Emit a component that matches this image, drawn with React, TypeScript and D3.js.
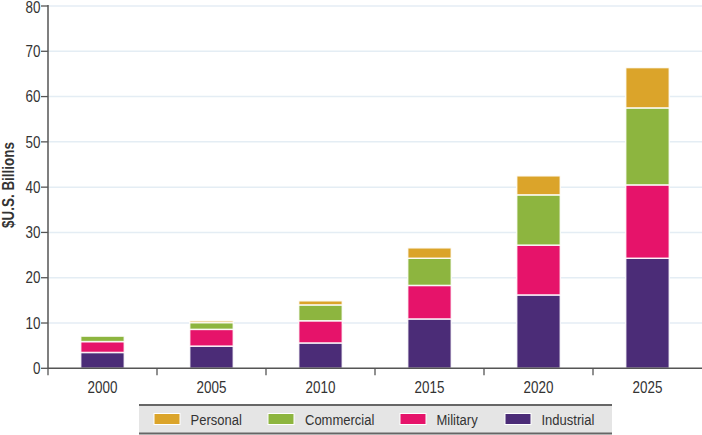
import React from "react";
import * as d3 from "d3";

const years = ["2000", "2005", "2010", "2015", "2020", "2025"];
const industrial = [3.5, 4.9, 5.6, 10.9, 16.2, 24.3];
const military = [2.4, 3.7, 4.9, 7.4, 11.0, 16.2];
const commercial = [1.2, 1.5, 3.5, 6.0, 11.1, 17.0];
const personal = [0, 0.4, 0.9, 2.3, 4.2, 8.9];
const seriesNames = ["Industrial", "Military", "Commercial", "Personal"];
const legendOrder = ["Personal", "Commercial", "Military", "Industrial"];
const yTicks = [0, 10, 20, 30, 40, 50, 60, 70, 80];

const colors: Record<string, string> = {
  Personal: "#DBA42A",
  Commercial: "#8DB53F",
  Military: "#E6136A",
  Industrial: "#4B2C77",
};

const W = 702;
const H = 435;
const FONT = "'Liberation Sans', Arial, sans-serif";
const SX = 0.84;

function CText(props: {
  x: number;
  y: number;
  anchor?: "start" | "middle" | "end";
  size: number;
  dy?: string;
  bold?: boolean;
  rotate?: number;
  children: React.ReactNode;
}) {
  const { x, y, anchor = "start", size, dy, bold, rotate = 0, children } = props;
  return (
    <g transform={`translate(${x},${y}) rotate(${rotate}) scale(${SX},1)`}>
      <text x={0} y={0} dy={dy} textAnchor={anchor} fontSize={size} fontWeight={bold ? "bold" : "normal"} fill="#333">
        {children}
      </text>
    </g>
  );
}

export default function App() {
  const left = 48;
  const right = 702;
  const y0 = 368.3;
  const yTop = 6;

  const x = d3.scaleBand<string>().domain(years).range([left, right]).paddingInner(0.6).paddingOuter(0.3);
  const xOuter = d3.scaleBand<string>().domain(years).range([left, right]);
  const y = d3.scaleLinear().domain([0, 80]).range([y0, yTop]);

  const table = years.map((yr, i) => ({
    year: yr,
    Industrial: industrial[i],
    Military: military[i],
    Commercial: commercial[i],
    Personal: personal[i],
  }));
  const stacked = d3.stack<any>().keys(seriesNames)(table);

  const legendX: Record<string, [number, number]> = {
    Personal: [154, 190.5],
    Commercial: [268, 305],
    Military: [400, 436.5],
    Industrial: [505, 541.5],
  };

  return (
    <svg width={W} height={H} style={{ position: "absolute", left: 0, top: 0, fontFamily: FONT }}>
      <rect x={0} y={0} width={W} height={H} fill="#fff" />
      {yTicks.filter((t) => t > 0).map((t) => (
        <line key={t} x1={left} x2={right} y1={y(t)} y2={y(t)} stroke="#E4EDF4" strokeWidth={1.5} />
      ))}
      {stacked.map((s) =>
        s.map((d, i) => {
          const h = y(d[0]) - y(d[1]);
          if (h <= 0) return null;
          return (
            <rect
              key={s.key + i}
              x={x(years[i])}
              y={y(d[1])}
              width={x.bandwidth()}
              height={h}
              fill={colors[s.key]}
              stroke="#fff"
              strokeOpacity={0.85}
              strokeWidth={1.5}
            />
          );
        })
      )}
      <line x1={left} x2={left} y1={yTop - 1} y2={y0} stroke="#555" strokeWidth={1.5} />
      {yTicks.map((t) => (
        <g key={t}>
          <line x1={left - 7} x2={left} y1={y(t)} y2={y(t)} stroke="#555" strokeWidth={1.3} />
          <CText x={left - 7.5} y={y(t)} dy={t === 80 ? "0.45em" : "0.36em"} anchor="end" size={16}>
            {t}
          </CText>
        </g>
      ))}
      <line x1={left} x2={right} y1={y0} y2={y0} stroke="#555" strokeWidth={1.5} />
      {years.map((yr) => (
        <g key={yr}>
          <line x1={xOuter(yr)} x2={xOuter(yr)} y1={y0} y2={y0 + 7} stroke="#555" strokeWidth={1.3} />
          <CText x={(xOuter(yr) as number) + xOuter.bandwidth() / 2} y={392.5} anchor="middle" size={16}>
            {yr}
          </CText>
        </g>
      ))}
      <CText x={13.5} y={185} rotate={-90} anchor="middle" size={16} bold>
        $U.S. Billions
      </CText>
      <rect x={139} y={405} width={473} height={28.5} fill="#E5E5E5" />
      <line x1={139} x2={612} y1={405} y2={405} stroke="#666" strokeWidth={2} />
      <line x1={139} x2={612} y1={433.5} y2={433.5} stroke="#666" strokeWidth={2} />
      {legendOrder.map((k) => (
        <g key={k}>
          <rect x={legendX[k][0]} y={413.5} width={26} height={11} fill={colors[k]} stroke="#fff" strokeWidth={1} />
          <CText x={legendX[k][1]} y={419.5} dy="0.36em" size={15.5}>
            {k}
          </CText>
        </g>
      ))}
    </svg>
  );
}
